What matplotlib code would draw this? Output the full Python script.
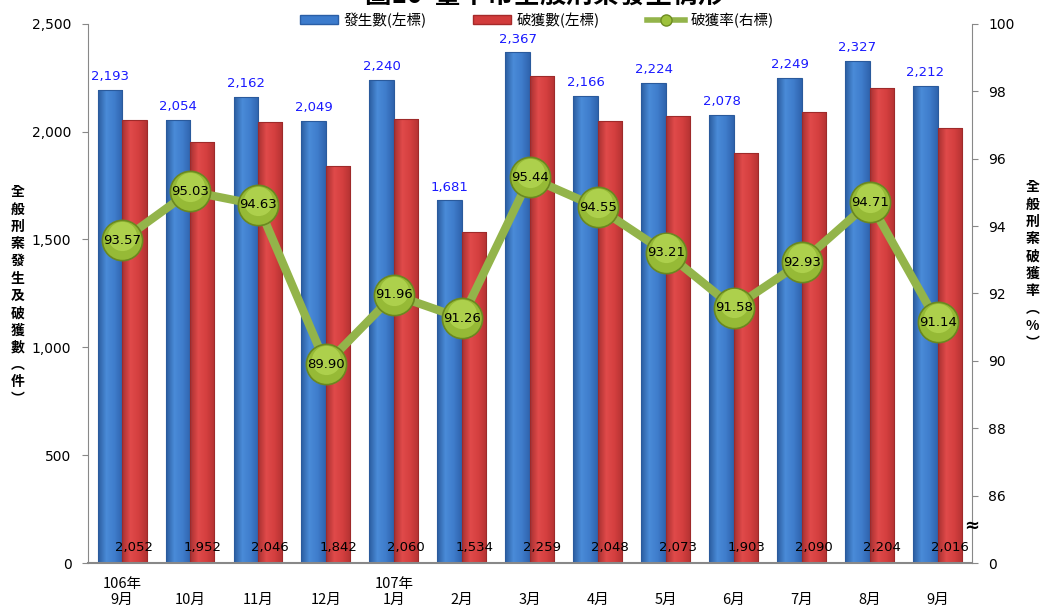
import numpy as np
import matplotlib
matplotlib.use('Agg')
import matplotlib.pyplot as plt
from matplotlib.lines import Line2D
from matplotlib.patches import Patch
from matplotlib.colors import LinearSegmentedColormap
from matplotlib.transforms import ScaledTranslation

plt.rcParams['font.family'] = ['Noto Sans CJK TC', 'DejaVu Sans']

# data
months = ['106年\n9月', '\n10月', '\n11月', '\n12月', '107年\n1月', '\n2月', '\n3月',
          '\n4月', '\n5月', '\n6月', '\n7月', '\n8月', '\n9月']
occurred = [2193, 2054, 2162, 2049, 2240, 1681, 2367, 2166, 2224, 2078, 2249, 2327, 2212]
solved = [2052, 1952, 2046, 1842, 2060, 1534, 2259, 2048, 2073, 1903, 2090, 2204, 2016]
rate = [93.57, 95.03, 94.63, 89.90, 91.96, 91.26, 95.44, 94.55, 93.21, 91.58, 92.93, 94.71, 91.14]

rate_ticks = [84, 86, 88, 90, 92, 94, 96, 98, 100]
rate_ticklabels = ['0', '86', '88', '90', '92', '94', '96', '98', '100']

blue = '#3c7bcc'
red = '#d23c3c'
green = '#93b44a'

blue_cmap = LinearSegmentedColormap.from_list('b', ['#2b5c9f', '#4a8bd8', '#3f7dcc', '#2f63ad'])
red_cmap = LinearSegmentedColormap.from_list('r', ['#a83030', '#e04a4a', '#d43f3f', '#b33232'])

fig = plt.figure(figsize=(10.42, 6.10), dpi=100)
ax = fig.add_axes([0.0845, 0.077, 0.848, 0.884])
x = np.arange(len(months))
w = 0.36
grad = np.linspace(0, 1, 64).reshape(1, -1)


def shaded_bars(xs, vals, cmap, edge):
    bars = ax.bar(xs, vals, w, color='none', edgecolor=edge, linewidth=0.8, zorder=2.2)
    for b in bars:
        x0, y0 = b.get_x(), b.get_y()
        im = ax.imshow(grad, cmap=cmap, aspect='auto', zorder=2,
                       extent=(x0, x0 + b.get_width(), y0, y0 + b.get_height()))
        im.set_clip_path(b)
    return bars


shaded_bars(x - w/2, occurred, blue_cmap, '#2a5a9c')
shaded_bars(x + w/2, solved, red_cmap, '#9e2a2a')

for xi, v in zip(x, occurred):
    ax.annotate(f'{v:,}', (xi - w/2, v), xytext=(0, 5), textcoords='offset points',
                ha='center', va='bottom', color='#1a1aff', fontsize=9.5, family='DejaVu Sans')
for xi, v in zip(x, solved):
    ax.text(xi + w/2, 70, f'{v:,}', ha='center', va='center', color='black',
            fontsize=9.5, family='DejaVu Sans', zorder=3)

ax.set_xlim(-0.5, len(months) - 0.5)
ax.set_ylim(0, 2500)
ax.set_yticks(range(0, 2501, 500))
ax.set_yticklabels([f'{t:,}' for t in range(0, 2501, 500)], family='DejaVu Sans', fontsize=10)
ax.set_xticks(x)
ax.set_xticklabels(months, fontsize=10.5)
ax.tick_params(axis='x', length=0, pad=10)
ax.tick_params(axis='y', length=4, color='#888888', pad=8)
for s in ['top', 'right']:
    ax.spines[s].set_visible(False)
ax.spines['left'].set_color('#888888')
ax.spines['bottom'].set_color('#888888')
ax.spines['bottom'].set_linewidth(1.5)

ax2 = ax.twinx()
ax2.set_ylim(84, 100)
ax2.set_yticks(rate_ticks)
ax2.set_yticklabels(rate_ticklabels, family='DejaVu Sans', fontsize=10)
ax2.tick_params(axis='y', length=4, color='#888888', pad=8)
for s in ['top', 'left', 'bottom']:
    ax2.spines[s].set_visible(False)
ax2.spines['right'].set_color('#888888')
ax2.plot(x, rate, color=green, linewidth=6, zorder=3, solid_capstyle='round')
ax2.plot(x, rate, linestyle='none', marker='o', markersize=29, markerfacecolor='#96ba36',
         markeredgecolor='#6a8820', markeredgewidth=1.2, zorder=4)
# lighter upper part on each ball
up = ax2.transData + ScaledTranslation(0, 3/72, fig.dpi_scale_trans)
ax2.plot(x, rate, linestyle='none', marker='o', markersize=21, markerfacecolor='#add04c',
         markeredgewidth=0, zorder=4.1, transform=up)
for xi, r in zip(x, rate):
    ax2.text(xi, r, f'{r:.2f}', ha='center', va='center', fontsize=9.5,
             family='DejaVu Sans', color='black', zorder=5)
ax2.text(1.0, 85.1, '≈', transform=ax2.get_yaxis_transform(), ha='center', va='center',
         fontsize=13, fontweight='bold', family='DejaVu Sans')

fig.text(0.017, 0.515, '全\n般\n刑\n案\n發\n生\n及\n破\n獲\n數\n︵\n件\n︶', ha='center', va='center',
         fontsize=10, fontweight='bold', linespacing=1.3)
fig.text(0.991, 0.565, '全\n般\n刑\n案\n破\n獲\n率\n︵\n%\n︶', ha='center', va='center',
         fontsize=10, fontweight='bold', linespacing=1.3)

fig.text(0.523, 1.006, '圖10  臺中市全般刑案發生情形', ha='center', va='center',
         fontsize=19, fontweight='bold')

handles = [Patch(facecolor=blue, edgecolor='#2a5ea6'),
           Patch(facecolor=red, edgecolor='#a52a2a'),
           Line2D([0], [0], color=green, linewidth=4, marker='o', markersize=8,
                  markerfacecolor='#9ec23c', markeredgecolor='#6e8c22')]
fig.legend(handles, ['發生數(左標)', '破獲數(左標)', '破獲率(右標)'], loc='center',
           bbox_to_anchor=(0.515, 1 - 20/610), ncol=3, frameon=False, fontsize=10.5,
           handlelength=2.6, handleheight=0.5, columnspacing=3.2, handletextpad=0.4)

fig.savefig('out.png', dpi=100)
